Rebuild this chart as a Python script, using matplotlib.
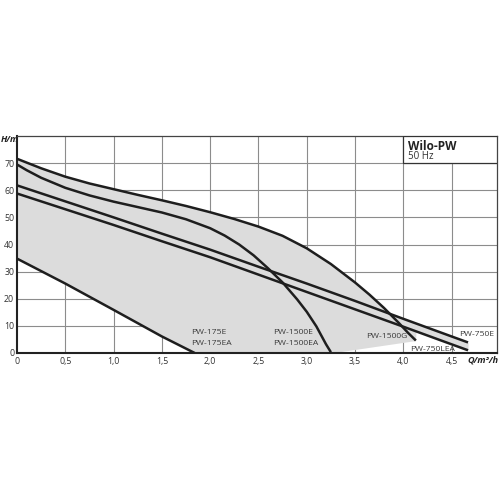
import matplotlib
matplotlib.use("Agg")
import matplotlib.pyplot as plt
import numpy as np
from matplotlib.patches import Rectangle

plt.rcParams['font.family'] = ['Open Sans', 'DejaVu Sans']

# Curve data (Q in m3/h, H in m)
pw1500g_q = [0, 0.25, 0.5, 0.75, 1.0, 1.25, 1.5, 1.75, 2.0, 2.25, 2.5, 2.75, 3.0, 3.25, 3.5,
             3.65, 3.8, 3.95, 4.05, 4.13]
pw1500g_h = [71.6, 68.1, 65.0, 62.5, 60.4, 58.3, 56.3, 54.2, 51.9, 49.4, 46.6, 43.2, 38.6, 32.8, 26.0,
             21.5, 16.6, 11.2, 7.4, 4.6]

pw1500e_q = [0, 0.1, 0.25, 0.5, 0.75, 1.0, 1.25, 1.5, 1.75, 2.0, 2.15, 2.3, 2.45, 2.6, 2.75,
             2.9, 3.0, 3.1, 3.2, 3.25]
pw1500e_h = [69.5, 67.4, 64.6, 60.9, 58.1, 55.8, 53.8, 51.8, 49.3, 46.0, 43.3, 40.0, 36.0, 31.2, 26.0,
             19.8, 15.2, 9.8, 3.2, 0.3]

pw750e_q = [0, 0.5, 1.0, 1.5, 2.0, 2.5, 3.0, 3.5, 4.0, 4.5, 4.67]
pw750e_h = [61.8, 55.9, 50.0, 44.0, 38.1, 31.8, 25.6, 19.2, 12.6, 6.1, 3.9]

pw750lea_q = [0, 0.5, 1.0, 1.5, 2.0, 2.5, 3.0, 3.5, 4.0, 4.5, 4.67]
pw750lea_h = [58.8, 53.0, 47.2, 41.2, 35.3, 28.9, 22.5, 16.1, 9.7, 3.2, 1.0]

pw175e_q = [0, 0.5, 1.0, 1.5, 1.84]
pw175e_h = [34.8, 25.6, 15.9, 6.1, 0.0]

x_ticks = [0, 0.5, 1.0, 1.5, 2.0, 2.5, 3.0, 3.5, 4.0, 4.5]
x_tick_labels = ["0", "0,5", "1,0", "1,5", "2,0", "2,5", "3,0", "3,5", "4,0", "4,5"]
y_ticks = [0, 10, 20, 30, 40, 50, 60, 70]

XMAX, YMAX = 4.97, 80

fig = plt.figure(figsize=(5, 5), dpi=100)
ax = fig.add_axes([0.034, 0.294, 0.96, 0.434])
ax.set_xlim(0, XMAX)
ax.set_ylim(0, YMAX)

# Grey operating envelope
qq = np.linspace(0, max(pw750e_q), 800)
top_g = np.where(qq <= pw1500g_q[-1], np.interp(qq, pw1500g_q, pw1500g_h), -1)
top = np.maximum(top_g, np.interp(qq, pw750e_q, pw750e_h))
q_end_g, h_end_g = pw1500g_q[-1], pw1500g_h[-1]
q_end_e = pw1500e_q[-1]
bottom = np.zeros_like(qq)
m = qq <= pw175e_q[-1]
bottom[m] = np.interp(qq[m], pw175e_q, pw175e_h)
m2 = (qq > q_end_e) & (qq <= q_end_g)
bottom[m2] = np.interp(qq[m2], [q_end_e, q_end_g], [0, h_end_g])
m3 = qq > q_end_g
bottom[m3] = np.interp(qq[m3], pw750lea_q, pw750lea_h)
ax.fill_between(qq, bottom, top, color='#dcdcdc', lw=0, zorder=1)

# Grid
for xv in x_ticks[1:]:
    ax.axvline(xv, color='#8c8c8c', lw=0.8, zorder=0.5)
for yv in y_ticks[1:]:
    ax.axhline(yv, color='#8c8c8c', lw=0.8, zorder=0.5)

lw = 1.8
col = '#1e1e1e'
for q, h in [(pw1500g_q, pw1500g_h), (pw1500e_q, pw1500e_h), (pw750e_q, pw750e_h),
             (pw750lea_q, pw750lea_h), (pw175e_q, pw175e_h)]:
    ax.plot(q, h, color=col, lw=lw, solid_capstyle='butt', solid_joinstyle='round', zorder=3)

# Title box
ax.add_patch(Rectangle((4.0, 70), XMAX - 4.0, 10, facecolor='white', edgecolor='#333333',
                       lw=0.9, zorder=4))
ax.text(4.05, 76.3, "Wilo-PW", fontsize=8.5, fontweight='bold', color='#222222', va='center', zorder=5)
ax.text(4.05, 72.4, "50 Hz", fontsize=7, color='#333333', va='center', zorder=5)

# Curve labels
tc = '#3a3a3a'
fs = 6.1
ax.text(1.8, 7.0, "PW-175E", fontsize=fs, color=tc, zorder=5)
ax.text(1.8, 2.8, "PW-175EA", fontsize=fs, color=tc, zorder=5)
ax.text(2.65, 7.0, "PW-1500E", fontsize=fs, color=tc, zorder=5)
ax.text(2.65, 2.8, "PW-1500EA", fontsize=fs, color=tc, zorder=5)
ax.text(3.61, 5.6, "PW-1500G", fontsize=fs, color=tc, zorder=5)
ax.text(4.58, 6.3, "PW-750E", fontsize=fs, color=tc, zorder=5)
ax.text(4.07, 0.6, "PW-750LEA", fontsize=fs, color=tc, zorder=5)

ax.set_xticks(x_ticks)
ax.set_xticklabels(x_tick_labels)
ax.set_yticks(y_ticks)
ax.tick_params(axis='both', length=0, labelsize=6.3, labelcolor='#333333', pad=3)
ax.tick_params(axis='y', pad=2)

for s in ['left', 'bottom']:
    ax.spines[s].set_color('#222222')
    ax.spines[s].set_linewidth(1.5)
for s in ['top', 'right']:
    ax.spines[s].set_color('#444444')
    ax.spines[s].set_linewidth(0.9)

fig.text(0.002, 0.722, "H/m", fontsize=6.5, fontstyle='italic', fontweight='bold', color='#222222', va='center')
fig.text(0.996, 0.281, "Q/m³/h", fontsize=6.5, fontstyle='italic', fontweight='bold', color='#222222',
         va='center', ha='right')

fig.savefig("out.png", dpi=100, facecolor='white')
